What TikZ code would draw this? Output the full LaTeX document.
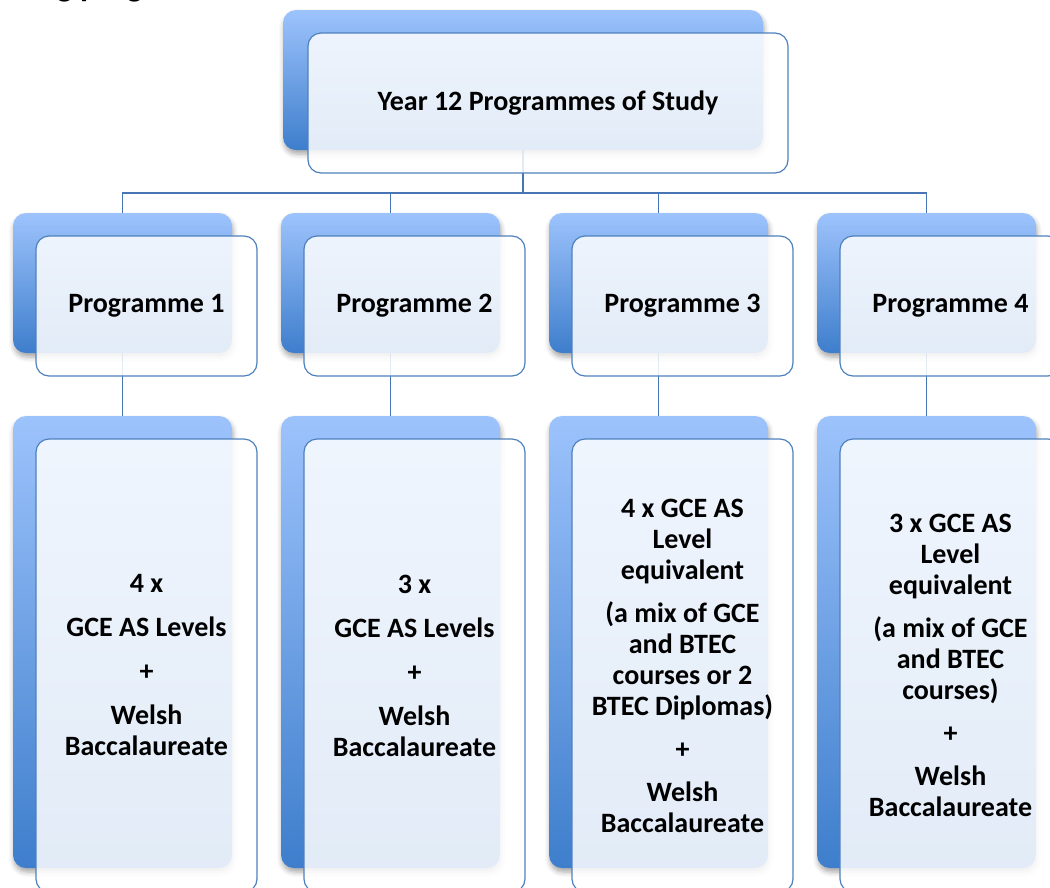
\documentclass[tikz,border=0pt]{standalone}
\usepackage{fontspec}
\setmainfont{Carlito}
\usetikzlibrary{backgrounds,shadows.blur}

\definecolor{bluetop}{RGB}{157,195,252}
\definecolor{bluebot}{RGB}{62,126,204}
\definecolor{frame}{RGB}{79,129,189}
\definecolor{link}{RGB}{72,118,180}

\tikzstyle{backbox} = [
	rectangle,
	rounded corners = 13pt,
	top color = bluetop,
	bottom color = bluebot,
	minimum width = 219pt,
	blur shadow = {shadow xshift=1pt, shadow yshift=-4pt, shadow blur radius=5pt, shadow opacity=35}
	]
\tikzstyle{frontbox} = [
	rectangle,
	rounded corners = 13pt,
	draw = frame,
	line width = 1.2pt,
	fill = white,
	fill opacity = 0.85,
	text opacity = 1,
	minimum width = 221pt
	]

\begin{document}
\begin{tikzpicture}[
	x = 1pt, y = -1pt,
	every node/.style = {
	align = center,
	inner sep = 0pt,
	font = \fontsize{28}{31}\selectfont\bfseries
	},
	link/.style = {
	draw = link,
	line width = 1.5pt
	}
	]
	\useasboundingbox (0,0) rectangle (1050,887);

	\node[anchor=base west, font=\fontsize{33}{36}\selectfont\bfseries] (heading) at (39,-4) {ng progra};

	% top of the chart
	\node[backbox, minimum width=480pt, minimum height=140pt] (yearbg) at (523,80) {};
	\node[frontbox, minimum width=480pt, minimum height=140pt] (year) at (548,103) {Year 12 Programmes of Study};

	% programme boxes
	\node[backbox, minimum height=140pt] (pbg1) at (122.5,283) {};
	\node[frontbox, minimum height=140pt] (p1) at (146.5,306) {Programme 1};
	\node[backbox, minimum height=140pt] (pbg2) at (390.5,283) {};
	\node[frontbox, minimum height=140pt] (p2) at (414.5,306) {Programme 2};
	\node[backbox, minimum height=140pt] (pbg3) at (658.5,283) {};
	\node[frontbox, minimum height=140pt] (p3) at (682.5,306) {Programme 3};
	\node[backbox, minimum height=140pt] (pbg4) at (926.5,283) {};
	\node[frontbox, minimum height=140pt] (p4) at (950.5,306) {Programme 4};

	% course boxes
	\node[backbox, minimum height=452pt] (cbg1) at (122.5,642) {};
	\node[frontbox, minimum height=453pt] (c1) at (146.5,665.5) {4 x\\[13pt] GCE AS Levels\\[13pt] +\\[13pt] Welsh\\ Baccalaureate};
	\node[backbox, minimum height=452pt] (cbg2) at (390.5,642) {};
	\node[frontbox, minimum height=453pt] (c2) at (414.5,665.5) {3 x\\[13pt] GCE AS Levels\\[13pt] +\\[13pt] Welsh\\ Baccalaureate};
	\node[backbox, minimum height=452pt] (cbg3) at (658.5,642) {};
	\node[frontbox, minimum height=453pt] (c3) at (682.5,665.5) {4 x GCE AS\\ Level\\ equivalent\\[12pt] (a mix of GCE\\ and BTEC\\ courses or 2\\ BTEC Diplomas)\\[12pt] +\\[12pt] Welsh\\ Baccalaureate};
	\node[backbox, minimum height=452pt] (cbg4) at (926.5,642) {};
	\node[frontbox, minimum height=453pt] (c4) at (950.5,665.5) {3 x GCE AS\\ Level\\ equivalent\\[12pt] (a mix of GCE\\ and BTEC\\ courses)\\[12pt] +\\[12pt] Welsh\\ Baccalaureate};

	\begin{scope}[on background layer]
		\draw[link] (yearbg.south) -- ++(0,43) -| (pbg1.north);
		\draw[link] (yearbg.south) -- ++(0,43) -| (pbg2.north);
		\draw[link] (yearbg.south) -- ++(0,43) -| (pbg3.north);
		\draw[link] (yearbg.south) -- ++(0,43) -| (pbg4.north);

		\draw[link] (pbg1.south) -- (cbg1.north);
		\draw[link] (pbg2.south) -- (cbg2.north);
		\draw[link] (pbg3.south) -- (cbg3.north);
		\draw[link] (pbg4.south) -- (cbg4.north);
	\end{scope}
\end{tikzpicture}
\end{document}
